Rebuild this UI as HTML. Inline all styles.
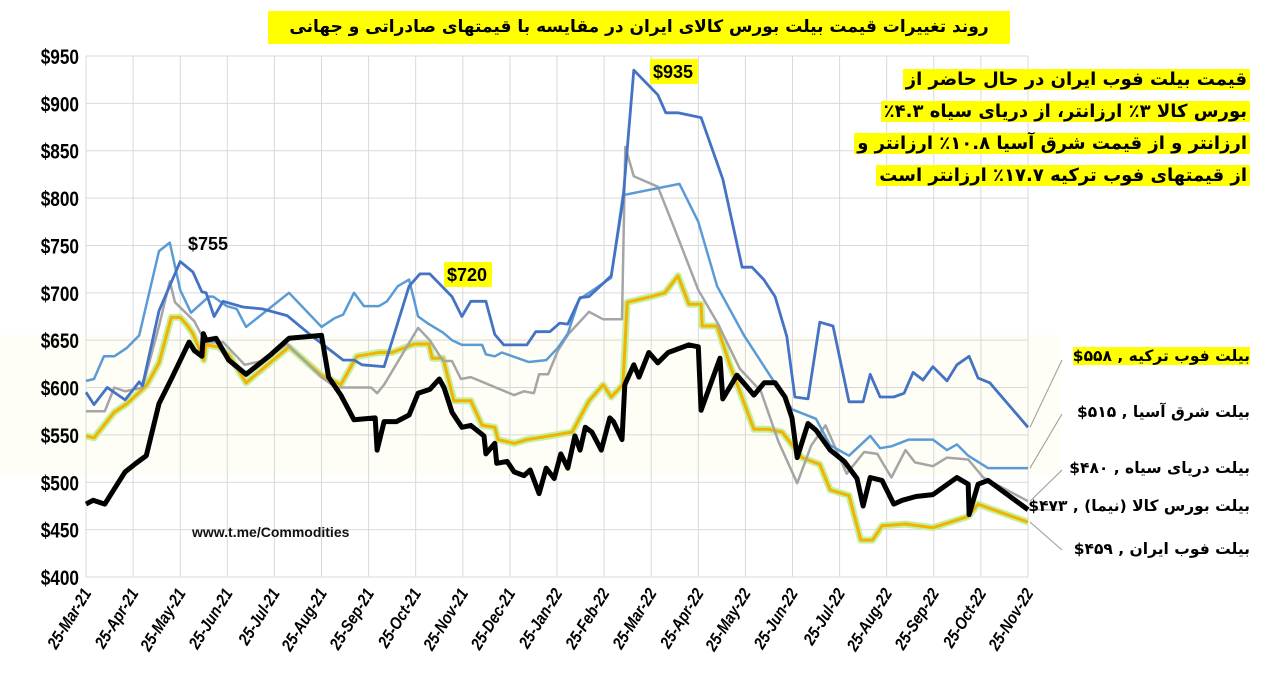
<!DOCTYPE html>
<html><head><meta charset="utf-8">
<style>
html,body{margin:0;padding:0;background:#fff;}
body{width:1280px;height:694px;position:relative;overflow:hidden;font-family:"Liberation Sans","Noto Sans CJK SC",sans-serif;}
.fa{font-family:"DejaVu Sans","Liberation Sans","Noto Sans CJK SC",sans-serif;font-weight:bold;direction:rtl;position:absolute;white-space:nowrap;}
.hl{background:#ffff00;}
#title{left:268px;top:11px;width:742px;height:33px;line-height:33px;text-align:center;font-size:17px;background:#ffff00;color:#000;}
#note{right:30px;top:64px;text-align:right;font-size:18px;line-height:32px;}
#note span{background:#ffff00;padding:0 3px;}
.leg{font-size:15.5px;right:30px;text-align:right;}
</style></head><body>
<div class="fa" id="title">روند تغییرات قیمت بیلت بورس کالای ایران در مقایسه با قیمتهای صادراتی و جهانی</div>
<svg id="chart" width="1280" height="694" style="position:absolute;left:0;top:0"></svg>
<div class="fa" id="note"><span>قیمت بیلت فوب ایران در حال حاضر از</span><br><span>بورس کالا ۳٪ ارزانتر، از دریای سیاه ۴.۳٪</span><br><span>ارزانتر و از قیمت شرق آسیا ۱۰.۸٪ ارزانتر و</span><br><span>از قیمتهای فوب ترکیه ۱۷.۷٪ ارزانتر است</span></div>
<div class="fa leg" style="top:347px"><span class="hl">بیلت فوب ترکیه , ۵۵۸$</span></div>
<div class="fa leg" style="top:403px">بیلت شرق آسیا , ۵۱۵$</div>
<div class="fa leg" style="top:459px">بیلت دریای سیاه , ۴۸۰$</div>
<div class="fa leg" style="top:497px">بیلت بورس کالا (نیما) , ۴۷۳$</div>
<div class="fa leg" style="top:540px">بیلت فوب ایران , ۴۵۹$</div>
<script>
const xLabels=["25-Mar-21","25-Apr-21","25-May-21","25-Jun-21","25-Jul-21","25-Aug-21","25-Sep-21","25-Oct-21","25-Nov-21","25-Dec-21","25-Jan-22","25-Feb-22","25-Mar-22","25-Apr-22","25-May-22","25-Jun-22","25-Jul-22","25-Aug-22","25-Sep-22","25-Oct-22","25-Nov-22"];
const yTicks=[400,450,500,550,600,650,700,750,800,850,900,950];
const turkeyM=[0,.17,.45,.83,1.13,1.2,1.55,2.0,2.27,2.46,2.55,2.72,2.91,3.33,3.74,4.27,4.78,5.46,5.69,5.86,6.33,6.86,7.09,7.3,7.77,7.98,8.17,8.49,8.68,8.87,9.36,9.55,9.85,10.06,10.23,10.49,10.68,11.15,11.4,11.63,12.14,12.31,12.57,13.06,13.52,13.93,14.14,14.39,14.63,14.88,15.05,15.33,15.58,15.86,16.2,16.5,16.65,16.86,17.15,17.37,17.56,17.77,17.98,18.28,18.49,18.75,18.94,19.19,20];
const turkeyV=[595,582,600,587,606,602,681,733,722,701,700,675,691,685,683,676,655,629,629,624,622,707,720,720,696,675,691,691,656,645,645,659,659,668,667,695,696,718,797,935,909,890,890,885,820,727,727,714,696,654,590,588,669,665,585,585,614,590,590,594,616,608,622,607,624,633,610,605,558];
const asiaM=[0,.17,.38,.6,.87,1.13,1.55,1.78,2.0,2.23,2.61,2.7,2.99,3.2,3.4,4.31,5.0,5.27,5.46,5.69,5.9,6.22,6.39,6.62,6.86,7.05,7.28,7.58,7.77,7.98,8.41,8.49,8.68,8.83,9.17,9.4,9.77,10.02,10.23,10.47,10.83,11.15,11.4,12.6,13.0,13.4,13.97,14.48,14.99,15.5,15.8,16.2,16.65,16.86,17.1,17.47,17.98,18.28,18.49,18.73,19.15,20];
const asiaV=[607,609,633,633,642,655,744,753,703,679,696,696,686,683,664,700,664,673,677,700,686,686,691,707,714,675,667,658,650,645,645,635,633,637,631,627,629,642,657,693,705,716,803,815,775,707,655,616,577,567,539,528,549,536,538,545,545,534,540,528,515,515];
const blackSeaM=[0,.4,.6,.83,1.2,1.55,1.78,1.89,2.3,2.53,2.91,3.37,3.74,4.27,5.0,5.3,6.05,6.18,6.33,7.05,7.3,7.58,7.77,7.96,8.17,9.09,9.3,9.51,9.62,9.81,10.02,10.25,10.68,10.98,11.38,11.45,11.63,12.14,12.5,13.0,13.4,13.88,14.33,14.7,15.1,15.4,15.7,16.15,16.52,16.8,17.1,17.4,17.6,17.98,18.28,18.73,19.05,20];
const blackSeaV=[575,575,600,596,600,665,712,690,670,648,648,624,628,646,611,600,600,594,603,663,650,628,628,609,611,592,596,594,614,614,639,657,680,672,672,854,823,812,767,703,669,620,596,543,499,539,560,509,532,530,505,534,521,517,526,524,505,480];
const iranM=[0,.17,.6,.87,1.28,1.55,1.81,2.0,2.16,2.27,2.5,2.55,2.8,3.03,3.4,4.31,5.0,5.41,5.75,6.22,6.5,6.97,7.28,7.35,7.58,7.81,8.17,8.41,8.68,8.75,9.09,9.36,9.85,10.32,10.68,10.98,11.15,11.4,11.49,12.0,12.29,12.57,12.8,13.06,13.08,13.4,13.67,14.18,14.48,14.78,15.2,15.58,15.8,16.2,16.45,16.7,16.9,17.4,17.98,18.73,18.94,19.15,20];
const iranV=[549,547,574,583,602,626,674,674,665,657,629,645,643,635,605,643,613,603,633,637,637,646,646,631,631,586,586,560,558,545,541,545,549,553,586,603,590,603,690,696,700,718,688,688,665,665,624,556,556,553,526,519,492,486,439,439,454,456,452,464,477,473,458];
const imeM=[0,.15,.4,.64,.83,1.06,1.28,1.55,1.81,2.19,2.3,2.46,2.49,2.55,2.76,3.03,3.4,3.93,4.31,5.0,5.15,5.41,5.69,6.14,6.18,6.33,6.59,6.86,7.05,7.3,7.5,7.6,7.77,7.98,8.17,8.45,8.49,8.68,8.72,8.94,9.09,9.3,9.43,9.62,9.77,9.94,10.08,10.23,10.38,10.49,10.6,10.74,10.94,11.12,11.2,11.38,11.44,11.63,11.74,11.95,12.14,12.36,12.8,13.0,13.06,13.46,13.52,13.82,14.03,14.18,14.4,14.63,14.84,14.99,15.1,15.33,15.5,15.8,16.1,16.37,16.5,16.65,16.9,17.15,17.33,17.62,17.98,18.49,18.73,18.75,18.94,19.15,20];
const imeV=[477,481,477,496,511,520,528,583,609,648,639,633,657,650,652,629,614,635,652,655,611,592,566,568,534,564,564,571,594,598,609,600,574,558,560,549,530,541,520,522,511,507,513,488,515,504,530,515,549,534,558,553,534,568,564,545,603,624,611,637,626,637,645,643,576,631,588,613,601,592,605,605,590,568,526,562,555,534,522,504,475,505,502,477,481,485,487,505,498,466,498,502,471];

const NS="http://www.w3.org/2000/svg";
const svg=document.getElementById('chart');
const X0=86,X1=1028,Y0=577,Y1=56;
function xs(m){return X0+(X1-X0)*m/20;}
function ys(v){return Y0-(Y0-Y1)*(v-400)/550;}
function mk(tag,attrs,parent){const e=document.createElementNS(NS,tag);for(const k in attrs)e.setAttribute(k,attrs[k]);(parent||svg).appendChild(e);return e;}
const wm=mk('rect',{x:0,y:335,width:1060,height:140,fill:'#fefef6'});


yTicks.forEach(v=>{
  const l=mk('line',{x1:X0,x2:X1,y1:ys(v),y2:ys(v),stroke:'#d9d9d9','stroke-width':1});
  
  
  const t=mk('text',{x:0,y:0,'font-size':21,'font-weight':'bold','text-anchor':'end','font-family':'Liberation Sans, sans-serif',transform:`translate(79,${ys(v)+8}) scale(0.82,1)`});
  t.textContent='$'+v;
  
  
});
xLabels.forEach((lab,i)=>{
  const l=mk('line',{x1:xs(i),x2:xs(i),y1:Y1,y2:Y0,stroke:'#d9d9d9','stroke-width':1});
  
  
  const t=mk('text',{x:0,y:0,'font-size':17,'font-weight':'bold','font-style':'italic','text-anchor':'end','font-family':'Liberation Sans, sans-serif',transform:`translate(${xs(i)+6},${Y0+16}) rotate(-58) scale(0.85,1)`});
  t.textContent=lab;
  
  
});
const wt=mk('text',{x:192,y:537,'font-size':14,'font-weight':'bold','font-family':'Liberation Sans, sans-serif',fill:'#111'});
wt.textContent='www.t.me/Commodities';


function pts(M,V){return M.map((m,i)=>xs(m).toFixed(1)+','+ys(V[i]).toFixed(1)).join(' ');}
const leaders=[[turkeyV,360],[asiaV,414],[blackSeaV,470],[imeV,510],[iranV,550]];
leaders.forEach(([V,ty])=>{
  const l=mk('line',{x1:X1+2,y1:ys(V[V.length-1]),x2:1062,y2:ty,stroke:'#999','stroke-width':1});
  
  
});
let p;
p=mk('polyline',{points:pts(iranM,iranV),fill:'none',stroke:'#c6f0a0','stroke-width':7,'stroke-linejoin':'round'});


p=mk('polyline',{points:pts(iranM,iranV),fill:'none',stroke:'#f2b300','stroke-width':3,'stroke-linejoin':'round'});


p=mk('polyline',{points:pts(blackSeaM,blackSeaV),fill:'none',stroke:'#a5a5a5','stroke-width':2.5,'stroke-linejoin':'round'});


p=mk('polyline',{points:pts(asiaM,asiaV),fill:'none',stroke:'#5b9bd5','stroke-width':2.5,'stroke-linejoin':'round'});


p=mk('polyline',{points:pts(turkeyM,turkeyV),fill:'none',stroke:'#4472c4','stroke-width':2.8,'stroke-linejoin':'round'});


p=mk('polyline',{points:pts(imeM,imeV),fill:'none',stroke:'#000','stroke-width':5,'stroke-linejoin':'round'});


function ann(txt,x,y,hl,name){
  if(hl){const r=mk('rect',{x:x-3,y:y-19,width:48,height:25,fill:'#ffff00'});
    
    }
  const t=mk('text',{x:x,y:y,'font-size':18,'font-weight':'bold','font-family':'Liberation Sans, sans-serif'});
  t.textContent=txt;
  
  
}
ann('$755',188,250,false,'peak-label-755');
ann('$720',447,281,true,'peak-label-720');
ann('$935',653,78,true,'peak-label-935');
</script>
</body></html>
